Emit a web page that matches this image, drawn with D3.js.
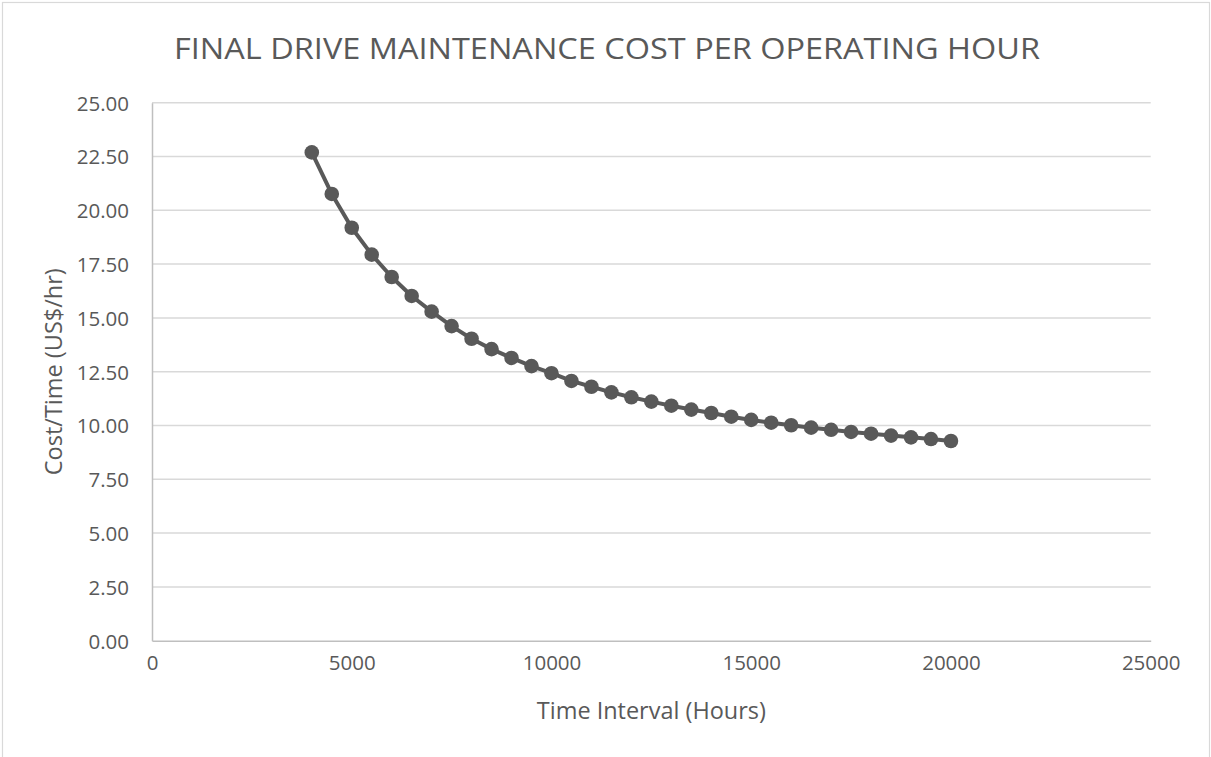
<!DOCTYPE html>
<html>
<head>
<meta charset="utf-8">
<script src="https://cdn.jsdelivr.net/npm/d3@7"></script>
<style>
  html, body { margin: 0; padding: 0; background: #ffffff; }
  svg { display: block; font-family: "Open Sans", "Noto Sans", sans-serif; }
</style>
</head>
<body>
<svg id="chart" width="1211" height="757"></svg>
<script>
// Service interval (operating hours) and cost per hour at each interval
const hours = [4000, 4500, 5000, 5500, 6000, 6500, 7000, 7500, 8000, 8500,
               9000, 9500, 10000, 10500, 11000, 11500, 12000, 12500, 13000, 13500,
               14000, 14500, 15000, 15500, 16000, 16500, 17000, 17500, 18000, 18500,
               19000, 19500, 20000];
const costPerHour = [22.69, 20.76, 19.19, 17.94, 16.90, 16.02, 15.29, 14.62, 14.03, 13.55,
                     13.14, 12.76, 12.43, 12.07, 11.80, 11.54, 11.31, 11.11, 10.92, 10.74,
                     10.58, 10.41, 10.26, 10.13, 10.01, 9.90, 9.80, 9.70, 9.62, 9.53,
                     9.45, 9.37, 9.28];
const xTicks = [0, 5000, 10000, 15000, 20000, 25000];
const yTicks = [0, 2.5, 5, 7.5, 10, 12.5, 15, 17.5, 20, 22.5, 25];

const chartTitle = "FINAL DRIVE MAINTENANCE COST PER OPERATING HOUR";
const xTitle = "Time Interval (Hours)";
const yTitle = "Cost/Time (US$/hr)";

const plot = { left: 152, right: 1150.7, top: 102.7, bottom: 640.7 };
const textColor = "#595959";
const fontStack = "'Open Sans', 'Noto Sans', sans-serif";

const svg = d3.select("#chart");

// outer chart frame
svg.append("rect")
  .attr("x", 2.5).attr("y", 2.5)
  .attr("width", 1207).attr("height", 770)
  .attr("fill", "#ffffff")
  .attr("stroke", "#d9d9d9").attr("stroke-width", 1.2);

const x = d3.scaleLinear().domain([0, 25000]).range([plot.left, plot.right]);
const y = d3.scaleLinear().domain([0, 25]).range([plot.bottom, plot.top]);

// horizontal gridlines
svg.append("g")
  .selectAll("line")
  .data(yTicks.filter(d => d > 0))
  .join("line")
  .attr("x1", plot.left).attr("x2", plot.right)
  .attr("y1", d => y(d)).attr("y2", d => y(d))
  .attr("stroke", "#d9d9d9").attr("stroke-width", 1.5);

// y axis
const yAxis = svg.append("g")
  .attr("transform", `translate(${plot.left},0)`)
  .call(d3.axisLeft(y).tickValues(yTicks).tickFormat(d3.format(".2f")).tickSize(0).tickPadding(23));
yAxis.attr("font-family", fontStack).attr("font-size", null);
yAxis.select(".domain").attr("stroke", "#bfbfbf").attr("stroke-width", 1.5);
yAxis.selectAll("text")
  .attr("fill", textColor)
  .style("font-size", "20.5px")
  .attr("dy", "0.36em");

// x axis
const xAxis = svg.append("g")
  .attr("transform", `translate(0,${plot.bottom})`)
  .call(d3.axisBottom(x).tickValues(xTicks).tickFormat(d3.format("d")).tickSize(0).tickPadding(23));
xAxis.attr("font-family", fontStack).attr("font-size", null);
xAxis.select(".domain").attr("stroke", "#bfbfbf").attr("stroke-width", 1.5);
xAxis.selectAll("text")
  .attr("fill", textColor)
  .style("font-size", "20.5px")
  .attr("dy", "0.3em");

// data series
const pts = hours.map((h, i) => [h, costPerHour[i]]);
const line = d3.line().x(d => x(d[0])).y(d => y(d[1]));

svg.append("path")
  .datum(pts)
  .attr("d", line)
  .attr("fill", "none")
  .attr("stroke", "#595959")
  .attr("stroke-width", 4)
  .attr("stroke-linejoin", "round");

svg.append("g")
  .selectAll("circle")
  .data(pts)
  .join("circle")
  .attr("cx", d => x(d[0]))
  .attr("cy", d => y(d[1]))
  .attr("r", 7.3)
  .attr("fill", "#595959");

// titles
svg.append("text")
  .attr("x", 607).attr("y", 58.5)
  .attr("text-anchor", "middle")
  .attr("fill", textColor)
  .style("font-size", "30px")
  .attr("textLength", 866)
  .attr("lengthAdjust", "spacingAndGlyphs")
  .text(chartTitle);

svg.append("text")
  .attr("x", (plot.left + plot.right) / 2).attr("y", 719.3)
  .attr("text-anchor", "middle")
  .attr("fill", textColor)
  .style("font-size", "24px")
  .attr("textLength", 229)
  .attr("lengthAdjust", "spacingAndGlyphs")
  .text(xTitle);

svg.append("text")
  .attr("transform", `translate(61.5,${(plot.top + plot.bottom) / 2}) rotate(-90)`)
  .attr("text-anchor", "middle")
  .attr("fill", textColor)
  .style("font-size", "24px")
  .attr("textLength", 207)
  .attr("lengthAdjust", "spacingAndGlyphs")
  .text(yTitle);
</script>
</body>
</html>
